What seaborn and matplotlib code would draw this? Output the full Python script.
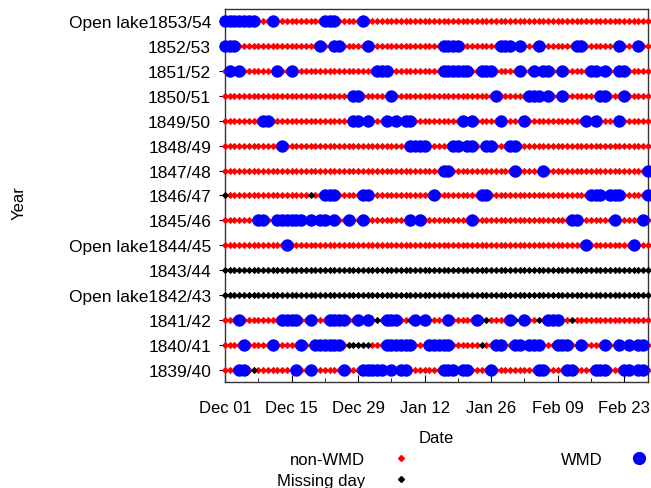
import datetime as dt
import matplotlib.pyplot as plt
import matplotlib.dates as mdates
from matplotlib.lines import Line2D
import pandas as pd
import seaborn as sns

# winters, bottom row first
seasons = ["1839/40", "1840/41", "1841/42", "1842/43", "1843/44", "1844/45",
           "1845/46", "1846/47", "1847/48", "1848/49", "1849/50", "1850/51",
           "1851/52", "1852/53", "1853/54"]
open_lake = ["1842/43", "1844/45", "1853/54"]
no_record = ["1842/43", "1843/44"]      # whole winter missing
n_days = 90                             # Dec 01 .. Feb 28

# WMD days, counted from Dec 01 (0 = Dec 01)
wmd_1839 = [3, 4, 15, 18, 25, 29, 30, 31, 32, 33, 35, 37, 38, 46, 47, 48, 50, 51,
            56, 66, 67, 72, 73, 78, 79, 80, 84, 85, 87, 88]
wmd_1840 = [4, 10, 16, 19, 20, 21, 22, 23, 24, 34, 35, 36, 37, 38, 39, 43, 44, 45,
            46, 47, 57, 58, 61, 62, 64, 65, 66, 70, 71, 72, 75, 80, 83, 85, 87, 88]
wmd_1841 = [3, 12, 13, 14, 15, 18, 22, 23, 24, 25, 28, 30, 34, 35, 36, 40, 42, 47,
            53, 60, 63, 68, 69, 70]
wmd_1844 = [13, 76, 86]
wmd_1845 = [7, 8, 11, 12, 13, 14, 15, 16, 18, 20, 21, 23, 26, 29, 39, 41, 52, 73,
            74, 82, 88]
wmd_1846 = [21, 22, 23, 29, 30, 44, 54, 55, 77, 78, 79, 81, 82, 83, 89]
wmd_1847 = [46, 47, 61, 67, 89]
wmd_1848 = [12, 39, 40, 41, 42, 48, 49, 51, 52, 55, 56, 60, 61]
wmd_1849 = [8, 9, 27, 28, 30, 34, 36, 38, 39, 50, 52, 58, 63, 76, 78, 83]
wmd_1850 = [27, 28, 35, 57, 64, 65, 66, 68, 71, 79, 80, 84]
wmd_1851 = [1, 3, 11, 14, 32, 33, 34, 46, 47, 48, 49, 50, 51, 54, 55, 56, 62, 65,
            67, 68, 71, 77, 78, 80, 83, 84]
wmd_1852 = [0, 1, 2, 20, 23, 24, 30, 46, 47, 48, 49, 58, 59, 60, 62, 66, 74, 75,
            83, 87]
wmd_1853 = [0, 1, 2, 3, 4, 5, 6, 10, 21, 22, 23, 29]

# single missing days
missing_1839 = [6]
missing_1840 = [26, 27, 28, 29, 30, 54]
missing_1841 = [32, 39, 55, 61, 66, 73]
missing_1846 = [0, 18]

wmd = {"1839/40": wmd_1839, "1840/41": wmd_1840, "1841/42": wmd_1841,
       "1844/45": wmd_1844, "1845/46": wmd_1845, "1846/47": wmd_1846,
       "1847/48": wmd_1847, "1848/49": wmd_1848, "1849/50": wmd_1849,
       "1850/51": wmd_1850, "1851/52": wmd_1851, "1852/53": wmd_1852,
       "1853/54": wmd_1853}
missing = {"1839/40": missing_1839, "1840/41": missing_1840,
           "1841/42": missing_1841, "1846/47": missing_1846}

# long table, one line per day
start = dt.datetime(1900, 12, 1)
rows = []
for i, season in enumerate(seasons):
    for d in range(n_days):
        if season in no_record or d in missing.get(season, []):
            status = "Missing day"
        elif d in wmd.get(season, []):
            status = "WMD"
        else:
            status = "non-WMD"
        rows.append({"date": start + dt.timedelta(days=d), "row": i + 1, "status": status})
df = pd.DataFrame(rows)

sns.set_style("white")
plt.rcParams["font.family"] = ["Liberation Sans", "DejaVu Sans"]
plt.rcParams["font.size"] = 12
plt.rcParams["text.color"] = "black"
plt.rcParams["axes.labelcolor"] = "black"
plt.rcParams["xtick.color"] = "black"
plt.rcParams["ytick.color"] = "black"

fig = plt.figure(figsize=(6.51, 4.89), dpi=100)
ax = fig.add_axes([0.3456, 0.2168, 0.6498, 0.7628])

styles = [("non-WMD", "red", "D", 14),
          ("Missing day", "black", "D", 14),
          ("WMD", "blue", "o", 80)]
for status, color, marker, size in styles:
    sub = df[df["status"] == status]
    sns.scatterplot(data=sub, x="date", y="row", color=color, marker=marker, s=size,
                    linewidth=0, ax=ax, clip_on=False, legend=False, zorder=3)

ax.set_xlim(start, start + dt.timedelta(days=n_days - 1))
ax.set_ylim(0.5, len(seasons) + 0.5)
ax.set_xticks(pd.date_range(start, periods=7, freq="14D"))
ax.set_xticks(pd.date_range(start, periods=13, freq="7D"), minor=True)
ax.xaxis.set_major_formatter(mdates.DateFormatter("%b %d"))
ax.set_yticks(range(1, len(seasons) + 1))
ax.set_yticklabels([("Open lake" + s) if s in open_lake else s for s in seasons])

ax.tick_params(axis="x", which="major", direction="in", length=5, pad=13, labelsize=12)
ax.tick_params(axis="x", which="minor", direction="in", length=3)
ax.tick_params(axis="x", which="both", bottom=True)
ax.tick_params(axis="y", direction="out", length=4, pad=6, labelsize=12.5, left=True)
for sp in ax.spines.values():
    sp.set_color("#333333")
    sp.set_linewidth(1)

ax.set_xlabel("Date", fontsize=12, labelpad=11)
ax.set_ylabel("Year", fontsize=12)
ax.yaxis.set_label_coords(-0.47, 0.483)

handles = [Line2D([], [], linestyle="none", marker="D", color="red", markersize=3),
           Line2D([], [], linestyle="none", marker="D", color="black", markersize=3),
           Line2D([], [], linestyle="none", marker="o", color="blue", markersize=8.5)]
fig.legend(handles, ["non-WMD", "Missing day", "WMD"], loc="upper left",
           bbox_to_anchor=(277 / 651, 1 - 453 / 489), ncol=2, markerfirst=False,
           frameon=False, handlelength=1.0, handletextpad=1.65, columnspacing=9.1,
           labelspacing=0.37, borderpad=0, borderaxespad=0, fontsize=12)

fig.savefig("out.png", dpi=100)
